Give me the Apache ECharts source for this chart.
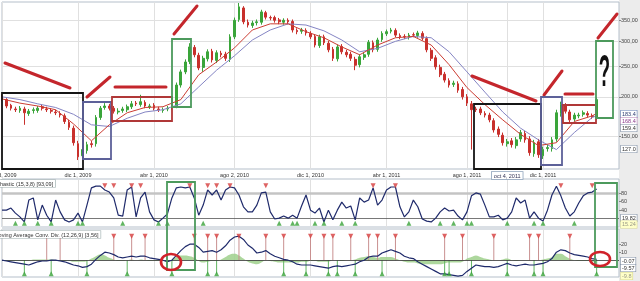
<!DOCTYPE html>
<html><head><meta charset="utf-8">
<script src="https://cdn.jsdelivr.net/npm/echarts@6/dist/echarts.min.js"></script>
<style>html,body{margin:0;padding:0;background:#fff}#c{width:640px;height:281px}</style>
</head><body><div id="c"></div>
<script>
// weekly categories (Mondays)
const categories = ['2009-08-03','2009-08-10','2009-08-17','2009-08-24','2009-08-31','2009-09-07','2009-09-14','2009-09-21','2009-09-28','2009-10-05','2009-10-12','2009-10-19','2009-10-26','2009-11-02','2009-11-09','2009-11-16','2009-11-23','2009-11-30','2009-12-07','2009-12-14','2009-12-21','2009-12-28',
'2010-01-04','2010-01-11','2010-01-18','2010-01-25','2010-02-01','2010-02-08','2010-02-15','2010-02-22','2010-03-01','2010-03-08','2010-03-15','2010-03-22','2010-03-29','2010-04-05','2010-04-12','2010-04-19','2010-04-26','2010-05-03','2010-05-10','2010-05-17','2010-05-24','2010-05-31','2010-06-07','2010-06-14','2010-06-21','2010-06-28','2010-07-05','2010-07-12','2010-07-19','2010-07-26','2010-08-02','2010-08-09','2010-08-16','2010-08-23','2010-08-30','2010-09-06','2010-09-13','2010-09-20','2010-09-27','2010-10-04','2010-10-11','2010-10-18','2010-10-25','2010-11-01','2010-11-08','2010-11-15','2010-11-22','2010-11-29','2010-12-06','2010-12-13','2010-12-20','2010-12-27',
'2011-01-03','2011-01-10','2011-01-17','2011-01-24','2011-01-31','2011-02-07','2011-02-14','2011-02-21','2011-02-28','2011-03-07','2011-03-14','2011-03-21','2011-03-28','2011-04-04','2011-04-11','2011-04-18','2011-04-25','2011-05-02','2011-05-09','2011-05-16','2011-05-23','2011-05-30','2011-06-06','2011-06-13','2011-06-20','2011-06-27','2011-07-04','2011-07-11','2011-07-18','2011-07-25','2011-08-01','2011-08-08','2011-08-15','2011-08-22','2011-08-29','2011-09-05','2011-09-12','2011-09-19','2011-09-26','2011-10-03','2011-10-10','2011-10-17','2011-10-24','2011-10-31','2011-11-07','2011-11-14','2011-11-21','2011-11-28','2011-12-05','2011-12-12','2011-12-19','2011-12-26',
'2012-01-02','2012-01-09','2012-01-16','2012-01-23','2012-01-30','2012-02-06','2012-02-13','2012-02-20','2012-02-27','2012-03-05','2012-03-12','2012-03-19','2012-03-26'];

const open = [201,196,188,183,181,183,177,181,181,186,
 183,181,179,177,174,166,159,142,130,135,
 142,142,172,185,187,184,179,181,182,186,
 191,189,192,186,188,183,181,183,185,187,
 218,240,259,287,271,248,264,279,261,275,
 273,263,310,352,383,345,337,344,345,370,
 357,357,351,345,350,347,325,323,325,318,
 311,291,310,296,283,264,289,277,273,263,
 253,267,273,297,283,304,317,323,325,313,
 311,309,315,313,318,306,281,266,248,236,
 225,219,220,211,200,190,183,183,177,175,
 168,158,151,142,145,140,147,153,147,132,
 144,130,137,137,147,177,188,179,170,174,
 176,177,174,172];
const close = [197,187,184,182,184,178,180,182,184,184,
 182,180,178,175,167,160,143,129,136,141,
 141,172,184,187,184,180,180,183,186,190,
 190,193,187,187,184,182,182,184,187,218,
 240,258,288,272,247,265,278,262,276,272,
 265,310,350,386,346,338,343,346,372,358,
 356,350,346,350,346,326,322,326,319,310,
 292,310,297,282,265,288,278,272,265,252,
 268,272,298,282,303,318,322,326,314,310,
 310,314,314,319,307,282,265,249,235,226,
 218,221,210,200,191,182,182,178,175,169,
 157,152,143,144,141,146,154,146,133,143,
 131,136,138,146,178,189,180,169,175,175,
 178,175,173,196];
const low = [194,184,181,179,178,163,174,177,178,181,
 179,177,175,172,164,157,140,126,127,132,
 138,139,169,182,181,177,176,178,179,183,
 187,186,184,183,181,179,178,180,182,184,
 214,236,254,267,243,240,259,257,256,267,
 260,258,305,346,340,332,331,337,339,352,
 350,344,340,339,340,320,316,317,313,305,
 287,286,292,277,260,259,273,267,260,243,
 248,262,268,277,278,299,312,318,309,305,
 305,304,309,308,302,277,260,244,231,222,
 214,215,206,196,187,136,179,175,172,166,
 154,149,140,139,138,137,144,143,130,129,
 128,127,134,134,144,173,177,166,167,171,
 173,172,170,169];
const high = [204,198,190,186,187,186,183,185,187,189,
 186,184,182,180,177,169,162,145,139,144,
 145,175,187,191,190,187,184,186,189,194,
 194,203,195,190,191,186,185,187,190,222,
 244,263,296,292,276,270,283,284,281,280,
 278,316,357,397,388,352,349,352,378,375,
 362,362,356,355,355,352,330,331,330,323,
 316,315,315,301,288,293,294,282,278,268,
 273,277,303,302,308,323,327,331,330,318,
 316,319,320,324,323,311,286,271,253,240,
 229,225,224,215,204,194,186,186,180,178,
 171,161,154,147,148,149,157,156,150,146,
 147,139,141,149,182,193,191,182,178,178,
 181,180,177,199];

// moving averages read every 4 weeks
const maWeeks = [0,4,8,12,16,20,24,28,32,36,40,44,48,52,56,60,64,68,72,76,80,84,88,92,96,100,104,108,112,116,120,124,128,132,133];
const maShort = [197,191,187,182,164,145,163,178,185,186,196,235,258,286,326,341,341,322,308,288,272,292,308,311,292,253,214,189,169,152,140,143,167,174,177];
const maLong = [200,196,190,185,176,163,161,171,179,182,190,215,243,270,303,326,341,338,324,303,278,285,300,311,308,278,240,207,179,159,146,136,154,172,174];

const stoch = [40,40,45,33,24,12,64,69,17,52,
 28,12,64,36,17,12,17,33,12,52,
 93,97,97,88,83,69,28,26,88,95,
 24,69,83,36,17,12,21,31,69,93,
 95,93,95,69,28,52,88,76,88,64,
 88,95,93,76,48,36,36,52,81,83,
 36,19,21,26,21,28,21,50,76,40,
 33,45,12,40,17,40,59,45,50,17,
 69,59,64,93,52,64,88,95,95,48,
 24,36,64,48,19,14,12,21,36,45,
 38,40,26,17,36,74,81,78,52,24,
 24,28,17,21,36,69,57,64,21,36,
 21,14,40,76,97,74,45,26,36,57,
 74,81,83,90];
const macd = [0,-1,-2,-3,-4,-5,-6,-4,-2,-1,
 -1,0,0,-1,-2,-4,-6,-7,-9,-8,
 -5,1,6,10,9,7,4,3,4,5,
 4,5,5,3,2,1,0,-2,0,6,
 12,17,20,20,16,10,11,12,10,13,
 18,25,29,30,26,19,15,9,10,12,
 8,5,3,1,0,-2,-5,-6,-6,-6,
 -7,-8,-9,-10,-8,-7,-8,-7,-6,-5,
 -2,0,4,5,5,9,11,13,11,9,
 5,3,2,-2,-5,-8,-11,-14,-17,-17,
 -18,-19,-20,-19,-14,-10,-6,-7,-8,-8,
 -9,-8,-6,-4,-6,-7,-6,-5,-6,-6,
 -5,-4,-2,2,10,13,12,9,7,6,
 5,4,2,1];
const macdHist = [0,-1,-1,-1,-1,-1,-1,1,1,1,
 1,1,0,-1,-1,-1,-2,-2,-2,-1,
 2,5,7,6,3,1,-1,-1,0,1,
 0,1,0,-1,-1,-1,-1,-2,1,4,
 6,6,5,3,-1,-3,-2,-1,-1,1,
 4,7,8,6,2,-2,-4,-5,-3,0,
 -1,-2,-3,-3,-3,-3,-3,-2,-2,-1,
 -1,-2,-2,-2,0,0,-1,0,0,1,
 3,4,5,4,3,4,4,4,2,0,
 -2,-3,-3,-4,-5,-5,-5,-5,-5,-4,
 -3,-3,-3,-2,2,4,6,4,2,1,
 0,0,1,2,0,-1,0,0,0,0,
 0,1,2,4,8,8,5,2,0,-1,
 -1,-1,-2,-1];

// signal markers (week indices)
const stochSell = [23,25,29,31,42,46,48,51,59,83,88,125,132];
const stochBuy = [3,5,8,11,17,18,27,35,37,45,62,65,66,70,72,76,79,91,98,101,104,105,113,119,121,128];
const macdSell = [10,13,25,29,32,43,46,48,53,59,63,69,72,74,78,82,84,88,99,103,110,118,120,127];
const macdBuy = [5,11,19,28,38,46,48,63,68,73,75,79,85,99,100,105,113,119,121,133];
const stochSellLevel = 98, stochBuyLevel = 9, macdSellLevel = 30, macdBuyLevel = -17;

// tick labels
const tickWeeks = [0,17,34,52,69,86,104,113,121];
const tickText = ['ago 3, 2009','dic 1, 2009','abr 1, 2010','ago 2, 2010','dic 1, 2010','abr 1, 2011','ago 1, 2011','oct 4, 2011','dic 1, 2011'];
const priceTicks = [150,200,250,300,350];
const stochTicks = [40,60,80];
const macdTicks = [10,20];

const FONT = 'Liberation Sans';
const chart = echarts.init(document.getElementById('c'), null, {renderer:'canvas'});
const isTick = (idx) => tickWeeks.indexOf(idx) >= 0;
function xAx(gi, showLabel) {
  return {
    type:'category', gridIndex:gi, data:categories, boundaryGap:false,
    axisLine:{show:false}, axisTick:{show:false},
    axisLabel: showLabel ? {
      show:true, interval:isTick, margin:3, fontSize:5.5, color:'#333', fontFamily:FONT,
      formatter:(v, idx) => { const k = tickWeeks.indexOf(idx); return k === 7 ? '{box|' + tickText[k] + '}' : tickText[k]; },
      rich:{box:{borderColor:'#8fa3bb', borderWidth:0.8, padding:[1,2,0,2], fontSize:5.5, color:'#335', backgroundColor:'#fff', fontFamily:FONT}}
    } : {show:false},
    splitLine:{show:true, interval:isTick, lineStyle:{color:'#e0e0e0', width:1}}
  };
}
function yAx(gi, cfg) {
  return Object.assign({
    gridIndex:gi, position:'right', axisLine:{show:false},
    axisTick:{show:true, customValues:cfg.ticks, length:2, lineStyle:{color:'#888'}},
    axisLabel:{customValues:cfg.ticks, formatter:cfg.fmt, fontSize:5.5, color:'#444', margin:2, fontFamily:FONT},
    splitLine:{show:cfg.split, lineStyle:{color:'#e0e0e0'}}
  }, cfg.ax);
}
const pairs = (weeks, level) => weeks.map(w => [categories[w], level]);
const tag = (x, y, text, o) => ({type:'text', x:x, y:y, z:50, style:Object.assign({text:text, font:'5.5px ' + FONT, fill:'#333', verticalAlign:'middle', backgroundColor:'#fff', borderColor:'#7a8aa0', borderWidth:0.6, padding:[1,1,0,1]}, o || {})});
const RED = '#c4262c', BLK = '#151515', BLU = '#5d6199', GRN = '#4c9a5c', RRECT = '#b03838';
const aLine = (x1,y1,x2,y2) => ({type:'line', z:40, shape:{x1,y1,x2,y2}, style:{stroke:RED, lineWidth:3, lineCap:'round'}});
const aRect = (x,y,w,h,c) => ({type:'rect', z:40, shape:{x,y,width:w,height:h}, style:{stroke:c, lineWidth:1.8, fill:'none'}});

const option = {
  animation:false,
  backgroundColor:'#fff',
  grid:[
    {left:2, right:21, top:2, height:167, show:true, borderColor:'#b5bfca', borderWidth:1, outerBoundsMode:'none'},
    {left:2, right:21, top:179, height:48, show:true, borderColor:'#b5bfca', borderWidth:1, outerBoundsMode:'none'},
    {left:2, right:21, top:229, height:48, show:true, borderColor:'#b5bfca', borderWidth:1, outerBoundsMode:'none'}
  ],
  xAxis:[xAx(0,true), xAx(1,false), xAx(2,false)],
  yAxis:[
    yAx(0, {ticks:priceTicks, split:true, fmt:v => Number(v).toFixed(2).replace('.', ','), ax:{type:'log', logBase:10, min:118, max:400}}),
    yAx(1, {ticks:stochTicks, split:false, fmt:v => String(v), ax:{type:'value', min:0, max:114}}),
    yAx(2, {ticks:macdTicks, split:false, fmt:v => String(v), ax:{type:'value', min:-21, max:39}})
  ],
  series:[
    {type:'candlestick', xAxisIndex:0, yAxisIndex:0, barWidth:2.2,
     data: open.map((o,i) => [o, close[i], low[i], high[i]]),
     itemStyle:{color:'#3aa53a', color0:'#c8302c', borderColor:'#3aa53a', borderColor0:'#c8302c', borderWidth:1}},
    {type:'line', xAxisIndex:0, yAxisIndex:0, symbol:'none', z:4,
     data: maWeeks.map((w,k) => [categories[w], maShort[k]]), lineStyle:{color:'#cc3d33', width:1}},
    {type:'line', xAxisIndex:0, yAxisIndex:0, symbol:'none', z:3,
     data: maWeeks.map((w,k) => [categories[w], maLong[k]]), lineStyle:{color:'#8585c4', width:1}},
    // stochastic
    {type:'line', xAxisIndex:1, yAxisIndex:1, symbol:'none', data:stoch, lineStyle:{color:'#1f2a6b', width:1.2}, z:5,
     markLine:{silent:true, symbol:'none', label:{show:false}, data:[
       {yAxis:80, lineStyle:{color:'#c4c4c4', width:2.5, type:'solid'}},
       {yAxis:20, lineStyle:{color:'#555', width:0.8, type:'solid'}}]}},
    {type:'scatter', xAxisIndex:1, yAxisIndex:1, symbol:'triangle', symbolRotate:180, symbolSize:[5,5], z:6,
     data:pairs(stochSell, stochSellLevel), itemStyle:{color:'#d63c3c'}},
    {type:'scatter', xAxisIndex:1, yAxisIndex:1, symbol:'triangle', symbolSize:[5,5], z:6,
     data:pairs(stochBuy, stochBuyLevel), itemStyle:{color:'#3aa33a'}},
    // MACD
    {type:'line', xAxisIndex:2, yAxisIndex:2, symbol:'none', smooth:true, data:macdHist,
     lineStyle:{width:0}, areaStyle:{color:'#9fd08c', opacity:0.85}, z:2},
    {type:'bar', xAxisIndex:2, yAxisIndex:2, barWidth:1, barGap:'-100%', data:pairs(macdSell, macdSellLevel), itemStyle:{color:'#c99090'}, z:2},
    {type:'bar', xAxisIndex:2, yAxisIndex:2, barWidth:1, barGap:'-100%', data:pairs(macdBuy, macdBuyLevel), itemStyle:{color:'#62b562'}, z:2},
    {type:'line', xAxisIndex:2, yAxisIndex:2, symbol:'none', data:macd, lineStyle:{color:'#1f2a6b', width:1.2}, z:5,
     markLine:{silent:true, symbol:'none', label:{show:false}, data:[{yAxis:0, lineStyle:{color:'#333', width:0.8, type:'solid'}}]}},
    {type:'scatter', xAxisIndex:2, yAxisIndex:2, symbol:'triangle', symbolRotate:180, symbolSize:[5,5], z:6,
     data:pairs(macdSell, macdSellLevel), itemStyle:{color:'#d63c3c'}},
    {type:'scatter', xAxisIndex:2, yAxisIndex:2, symbol:'triangle', symbolSize:[5,5], z:6,
     data:pairs(macdBuy, macdBuyLevel), itemStyle:{color:'#3aa33a'}}
  ],
  graphic:[
    {type:'rect', z:-10, silent:true, shape:{x:619, y:0, width:21, height:281}, style:{fill:'#ececec'}},
    {type:'text', x:-13, y:180, z:30, style:{text:'Stochastic (15,3,8) [93,09]', font:'5.5px ' + FONT, fill:'#333', backgroundColor:'#fff', borderColor:'#9aa', borderWidth:0.6, padding:[1,2,0,2]}},
    {type:'text', x:-8, y:231, z:30, style:{text:'Moving Average Conv. Div. (12,26,9) [3,56]', font:'5.5px ' + FONT, fill:'#333', backgroundColor:'#fff', borderColor:'#9aa', borderWidth:0.6, padding:[1,2,0,2]}},
    // value tags on the right
    tag(621, 114, '183.4', {borderColor:'#5a78b0', fill:'#2a3a70'}),
    tag(621, 121, '168.4', {fill:'#8a3a8a', borderColor:'#b07ab0'}),
    tag(621, 128, '159.4', {}),
    tag(621, 149, '127.0', {}),
    tag(621, 218, '19.82', {}),
    tag(621, 224.5, '15.24', {backgroundColor:'#ffffc8', borderColor:'#d8d890', fill:'#998'}),
    tag(621, 261, '-0.07', {}),
    tag(621, 268, '-9.57', {}),
    tag(621, 276, '-9.8', {backgroundColor:'#ffffc8', borderColor:'#d8d890', fill:'#998'}),
    // hand-drawn annotations
    aLine(5,63,70,88), aRect(2,93,81,76,BLK),
    aLine(87,97,110,77), aRect(83,102,28,57,BLU),
    aLine(115,87,166,87), aRect(112,97,60,24,RRECT),
    aLine(174,34,197,6), aRect(172,39,19,68,GRN),
    aLine(472,76,536,101), aRect(474,104,67,65,BLK),
    aLine(544,95,562,71), aRect(541,97,21,68,BLU),
    aLine(565,94,593,94), aRect(563,105,33,18,RRECT),
    aLine(598,38,617,14), aRect(596,41,17,77,GRN),
    {type:'text', x:604.5, y:74, z:45, scaleX:0.42, style:{text:'?', font:'bold 44px ' + FONT, fill:'#111', align:'center', verticalAlign:'middle'}},
    aRect(167,182,28,88,GRN),
    {type:'ellipse', z:45, shape:{cx:171, cy:262, rx:10, ry:8}, style:{stroke:'#d0222a', lineWidth:2.6, fill:'none'}},
    aRect(595,183,22,84,GRN),
    {type:'ellipse', z:45, shape:{cx:600, cy:259, rx:10, ry:7}, style:{stroke:'#d0222a', lineWidth:2.6, fill:'none'}}
  ]
};
chart.setOption(option);
</script>
</body></html>
